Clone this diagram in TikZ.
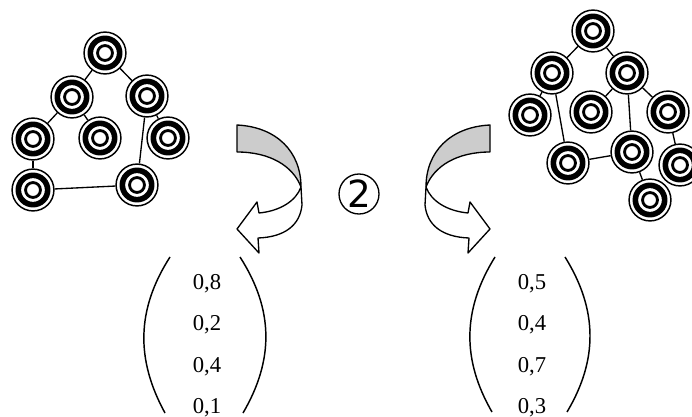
\documentclass[tikz,border=0pt]{standalone}
\usepackage{fontspec}
\setmainfont{Liberation Serif}
\newfontfamily\circfont{DejaVu Sans}
\usepackage{xcolor}
\usepackage{tikz}
\definecolor{bandgray}{RGB}{204,204,204}

\begin{document}
\begin{tikzpicture}[x=0.75pt, y=-0.75pt,
  ring/.style={circle, draw, fill=white, line width=1.1pt, minimum size=31.4pt, inner sep=0pt,
    path picture={\draw[line width=4.2pt] (path picture bounding box.center) circle[radius=11pt];
      \draw[line width=2.1pt] (path picture bounding box.center) circle[radius=5.6pt];}},
  link/.style={line width=1pt},
  entry/.style={anchor=base, inner sep=0pt, font=\fontsize{17}{20}\selectfont},
  paren/.style={line width=1.1pt},
  twist/.style={draw, line width=1pt, line join=round}]
\useasboundingbox (0,0) rectangle (692,417);

\node[ring] (la) at (105,53) {};
\node[ring] (lb) at (72,97) {};
\node[ring] (lc) at (147,96) {};
\node[ring] (ld) at (33,139) {};
\node[ring] (le) at (100,138) {};
\node[ring] (lf) at (168,138) {};
\node[ring] (lg) at (33,190) {};
\node[ring] (lh) at (137,185) {};
\draw[link] (la) -- (lb);
\draw[link] (la) -- (lc);
\draw[link] (lb) -- (ld);
\draw[link] (lb) -- (le);
\draw[link] (lc) -- (lf);
\draw[link] (lc) -- (lh);
\draw[link] (ld) -- (lg);
\draw[link] (lg) -- (lh);

\node[ring] (ra) at (593,31) {};
\node[ring] (rb) at (552,73) {};
\node[ring] (rc) at (627,73) {};
\node[ring] (rd) at (530,115) {};
\node[ring] (re) at (591,112) {};
\node[ring] (rf) at (668,112) {};
\node[ring] (rg) at (568,163) {};
\node[ring] (rh) at (632,152) {};
\node[ring] (ri) at (680,165) {};
\node[ring] (rj) at (650,200) {};
\draw[link] (ra) -- (rb);
\draw[link] (ra) -- (rc);
\draw[link] (rb) -- (rd);
\draw[link] (rb) -- (rg);
\draw[link] (rc) -- (re);
\draw[link] (rc) -- (rf);
\draw[link] (rc) -- (rh);
\draw[link] (rg) -- (rh);
\draw[link] (rh) -- (rj);
\draw[link] (rf) -- (ri);

\draw[twist, fill=bandgray] (237,125) .. controls (277,127) and (301,152) .. (301,187)
  .. controls (293,166) and (270,152) .. (237,152) -- cycle;
\draw[twist, fill=white] (301,187) -- (302,205) .. controls (300,225) and (285,237) .. (258,238)
  -- (259,253) -- (237,229) -- (257,202) -- (259,213)
  .. controls (280,211) and (296,201) .. (301,187) -- cycle;
\draw[twist, fill=bandgray] (490,125) .. controls (450,127) and (426,152) .. (426,187)
  .. controls (434,166) and (457,152) .. (490,152) -- cycle;
\draw[twist, fill=white] (426,187) -- (425,205) .. controls (427,225) and (442,237) .. (469,238)
  -- (468,253) -- (490,229) -- (470,202) -- (468,213)
  .. controls (447,211) and (431,201) .. (426,187) -- cycle;

\node[circle, draw, line width=1pt, minimum size=30pt, inner sep=0pt,
  font=\circfont\fontsize{28}{28}\selectfont] (two) at (359,194) {2};

\draw[paren] (170,257) .. controls (136,310) and (136,360) .. (165,413);
\draw[paren] (240,257) .. controls (274,310) and (274,360) .. (243,413);
\node[entry] (u1) at (207,289) {0,8};
\node[entry] (u2) at (207,330.5) {0,2};
\node[entry] (u3) at (207,372) {0,4};
\node[entry] (u4) at (207,413.5) {0,1};

\draw[paren] (495,257) .. controls (462,310) and (462,360) .. (492,412);
\draw[paren] (565,257) .. controls (598,310) and (598,360) .. (567,412);
\node[entry] (w1) at (532,289) {0,5};
\node[entry] (w2) at (532,330.5) {0,4};
\node[entry] (w3) at (532,372) {0,7};
\node[entry] (w4) at (532,413.5) {0,3};
\end{tikzpicture}
\end{document}
